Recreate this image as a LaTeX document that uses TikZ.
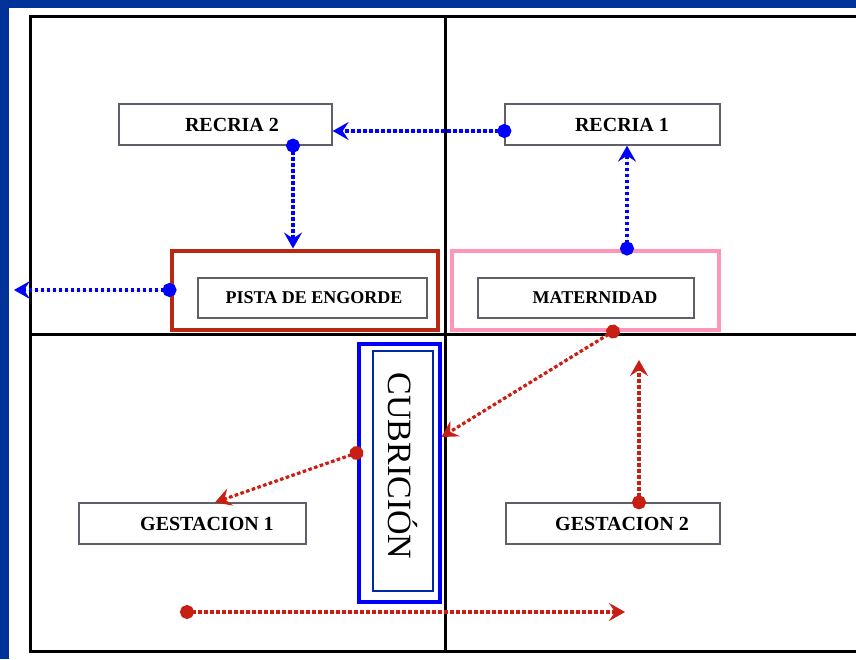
\documentclass[tikz,border=0pt]{standalone}
\usepackage{fontspec}
\setmainfont{Liberation Serif}
\usetikzlibrary{arrows.meta,calc}
\definecolor{navybg}{RGB}{0,51,153}
\definecolor{boxgray}{RGB}{95,95,105}
\definecolor{pistared}{RGB}{185,40,20}
\definecolor{matpink}{RGB}{255,150,185}
\definecolor{cubblue}{RGB}{0,0,255}
\definecolor{cubnavy}{RGB}{0,40,160}
\definecolor{flowblue}{RGB}{0,0,255}
\definecolor{flowred}{RGB}{200,30,20}
\begin{document}
\begin{tikzpicture}[x=1pt,y=-1pt,
  frameline/.style={line width=3pt,black},
  labelbox/.style={draw=boxgray,line width=1.3pt,fill=white,inner sep=0pt,font=\bfseries\fontsize{20}{20}\selectfont},
  smallbox/.style={labelbox,font=\bfseries\fontsize{18}{18}\selectfont},
  outerbox/.style={line width=4pt,fill=white,inner sep=0pt},
  flow/.style={line width=3.2pt,dash pattern=on 3.5pt off 2.5pt,shorten <=-7pt,{Circle[length=14pt]}-{Stealth[length=16pt,width=18pt,inset=6pt]}},
  blueflow/.style={flow,draw=flowblue,fill=flowblue},
  redflow/.style={flow,draw=flowred,fill=flowred}]
\useasboundingbox (0,0) rectangle (856,659);
\clip (0,0) rectangle (856,659);
\fill[navybg] (0,0) rectangle (856,659);
\fill[white] (9,8) rectangle (856,659);
% frame
\draw[frameline] (30,16) rectangle (880,651);
\draw[frameline] (445,16) -- (445,651);
\draw[frameline] (30,334) -- (880,334);
% outer boxes
\node[outerbox,draw=pistared,minimum width=266pt,minimum height=79pt] (pistaO) at (304.5,290) {};
\node[outerbox,draw=matpink,minimum width=267pt,minimum height=79pt] (matO) at (585,290) {};
\node[outerbox,draw=cubblue,minimum width=81pt,minimum height=258pt] (cubO) at (399,472.5) {};
\node[draw=cubnavy,line width=1.5pt,fill=white,inner sep=0pt,rotate=-90,minimum width=240pt,minimum height=60pt,font=\fontsize{34}{34}\selectfont] (cubI) at (403,471) {\hspace*{-10pt}CUBRICIÓN};
% label boxes
\node[labelbox,minimum width=213pt,minimum height=41pt] (rec2) at (225.5,124.5) {\hspace*{13pt}RECRIA 2};
\node[labelbox,minimum width=215pt,minimum height=41pt] (rec1) at (612.5,124.5) {\hspace*{19pt}RECRIA 1};
\node[smallbox,minimum width=229pt,minimum height=40pt] (pistaI) at (312.5,298) {\hspace*{3pt}PISTA DE ENGORDE};
\node[smallbox,minimum width=216pt,minimum height=40pt] (matI) at (586,298) {\hspace*{18pt}MATERNIDAD};
\node[labelbox,minimum width=227pt,minimum height=41pt] (gest1) at (192.5,523.5) {\hspace*{29pt}GESTACION 1};
\node[labelbox,minimum width=214pt,minimum height=41pt] (gest2) at (613,523.5) {\hspace*{18pt}GESTACION 2};
% free ends
\coordinate (exitL) at (14,290);
\coordinate (g2up) at (639,360);
\coordinate (botL) at (187,612);
\coordinate (botR) at (625,612);
% blue flows
\draw[blueflow] ([yshift=-6.5pt]rec1.west) -- ([yshift=-6.5pt]rec2.east);
\draw[blueflow] ([xshift=67.5pt]rec2.south) -- ([xshift=-11.5pt]pistaO.north);
\draw[blueflow] ([xshift=42pt]matO.north) -- ([xshift=14.5pt]rec1.south);
\draw[blueflow] (pistaO.west) -- (exitL);
% red flows
\draw[redflow] ([xshift=28pt]matO.south) -- ([yshift=35.5pt]cubO.east);
\draw[redflow] ([yshift=19.5pt]cubO.west) -- ([xshift=22.5pt]gest1.north);
\draw[redflow] ([xshift=26pt]gest2.north) -- (g2up);
\draw[redflow] (botL) -- (botR);
\end{tikzpicture}
\end{document}
